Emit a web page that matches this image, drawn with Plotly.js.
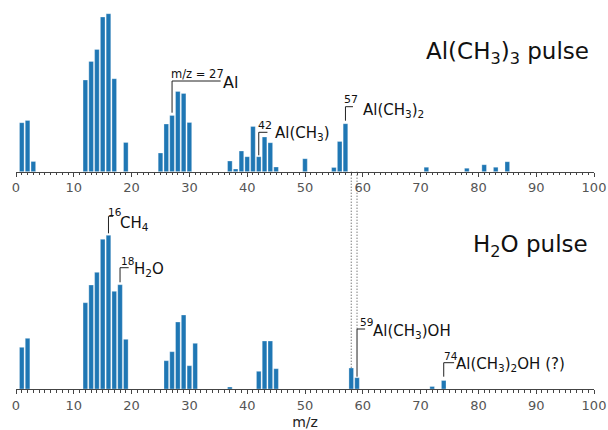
<!DOCTYPE html>
<html><head><meta charset="utf-8">
<script src="https://cdn.plot.ly/plotly-3.0.1.min.js"></script>
<style>body{margin:0;background:#fff}#chart{width:608px;height:430px}</style>
</head><body><div id="chart"></div>
<script>
// Al(CH3)3 pulse spectrum (relative intensity)
const tmaMz  = [1,2,3,12,13,14,15,16,17,19,25,26,27,28,29,30,37,38,39,40,41,42,43,44,45,50,55,56,57,71,78,81,83,85];
const tmaInt = [49,51.3,10.3,91.7,110.3,122.3,154.7,158,93,29.3,18.7,47.7,56.3,80.3,78.3,49.3,10.7,2.7,20.7,15,45.3,15,34.7,29,4.7,13,4.3,30.3,48,4.5,3.5,7,4.5,10];
// H2O pulse spectrum
const h2oMz  = [1,2,12,13,14,15,16,17,18,19,26,27,28,29,30,31,37,42,43,44,45,58,59,72,74];
const h2oInt = [41.7,50.7,86.3,104,116.7,149.7,153.7,97.7,104.3,49.7,28.3,37.3,67,74,23.3,45.7,2,17.7,48,48,20.3,21,11.3,2.5,8.5];
const xTicks = [0,10,20,30,40,50,60,70,80,90,100];

const FONT = 'DejaVu Sans, Arial, sans-serif';
const BLUE = '#1f77b4';
const topDom = [0.5586, 1], topRange = [0, 171.7];
const botDom = [0, 0.5], botRange = [0, 194.5];
function botPaper(v){ return botDom[0] + v/botRange[1]*(botDom[1]-botDom[0]); }
function topPaper(v){ return topDom[0] + v/topRange[1]*(topDom[1]-topDom[0]); }

const traces = [
  {type:'bar', x:tmaMz, y:tmaInt, xaxis:'x', yaxis:'y', width:0.8,
   marker:{color:BLUE, line:{width:0.6, color:'rgba(255,255,255,0.5)'}}, hoverinfo:'skip'},
  {type:'bar', x:h2oMz, y:h2oInt, xaxis:'x2', yaxis:'y2', width:0.8,
   marker:{color:BLUE, line:{width:0.6, color:'rgba(255,255,255,0.5)'}}, hoverinfo:'skip'}
];

function xax(anchor){
  return {range:[0,100], anchor:anchor, tickvals:xTicks, ticktext:xTicks.map(String),
    ticks:'outside', ticklen:4, tickwidth:1, tickcolor:'#444', showline:true, linecolor:'#444', linewidth:1,
    showgrid:false, zeroline:false, tickfont:{family:FONT, size:13, color:'#555'},
    minor:{dtick:1, tick0:0, ticks:'outside', ticklen:2.5, tickwidth:1, tickcolor:'#444', showgrid:false}};
}
function yax(dom, rng){
  return {domain:dom, range:rng, visible:false, fixedrange:true};
}

const shapes = [];
const ann = [];
function bracket(xr, yr, x, y0, y1, x2){
  shapes.push({type:'path', xref:xr, yref:yr, path:`M ${x},${y0} L ${x},${y1} L ${x2},${y1}`,
    line:{color:'#222', width:1}});
}
function label(xr, yr, x, y, text, size, anchorY){
  ann.push({xref:xr, yref:yr, x:x, y:y, text:text, showarrow:false, xanchor:'left', yanchor:anchorY||'middle',
    font:{family:FONT, size:size, color:'#111'}, borderpad:0});
}

// Top panel annotations
bracket('x','y', 27, 59, 90.7, 35.4);
label('x','y', 26.7, 97.7, 'm/z = 27', 11.5);
label('x','y', 35.7, 89.7, 'Al', 16);
bracket('x','y', 42, 16.4, 39.4, 43.5);
label('x','y', 41.7, 46, '42', 11);
label('x','y', 44.7, 38, 'Al(CH<sub>3</sub>)', 15);
bracket('x','y', 57, 51, 65, 58.3);
label('x','y', 56.6, 72, '57', 11);
label('x','y', 59.9, 61, 'Al(CH<sub>3</sub>)<sub>2</sub>', 15);

// Bottom panel annotations
bracket('x2','y2', 16, 155.7, 172.7, 16.8);
label('x2','y2', 15.8, 177.3, '16', 10.5);
label('x2','y2', 17.8, 165.5, 'CH<sub>4</sub>', 15);
bracket('x2','y2', 18, 106.7, 121.3, 19.5);
label('x2','y2', 18.0, 128.3, '18', 10.5);
label('x2','y2', 20.2, 119.5, 'H<sub>2</sub>O', 15);
bracket('x2','y2', 59, 12.3, 60, 60.4);
label('x2','y2', 59.3, 67.3, '59', 10.5);
label('x2','y2', 61.6, 58, 'Al(CH<sub>3</sub>)OH', 15);
bracket('x2','y2', 74, 12.3, 26.3, 75.8);
label('x2','y2', 73.9, 33, '74', 10.5);
label('x2','y2', 76.0, 24.5, 'Al(CH<sub>3</sub>)<sub>2</sub>OH (?)', 15);

// Dotted guide lines linking the panels
shapes.push({type:'line', xref:'x2', yref:'paper', x0:58, x1:58, y0:topPaper(0), y1:botPaper(21),
  line:{color:'#444', width:1, dash:'1px,2px'}});
shapes.push({type:'line', xref:'x2', yref:'paper', x0:59, x1:59, y0:topPaper(0), y1:botPaper(60),
  line:{color:'#444', width:1, dash:'1px,2px'}});

// Panel titles
ann.push({xref:'paper', yref:'y', x:0.995, y:119, text:'Al(CH<sub>3</sub>)<sub>3</sub> pulse', showarrow:false,
  xanchor:'right', yanchor:'middle', font:{family:FONT, size:23, color:'#111'}});
ann.push({xref:'paper', yref:'y2', x:0.993, y:143, text:'H<sub>2</sub>O pulse', showarrow:false,
  xanchor:'right', yanchor:'middle', font:{family:FONT, size:23, color:'#111'}});

const x2 = xax('y2');
x2.title = {text:'m/z', font:{family:FONT, size:14, color:'#222'}, standoff:5};

const layout = {
  width:608, height:430, margin:{l:16, r:14, t:0, b:41},
  paper_bgcolor:'#fff', plot_bgcolor:'#fff', showlegend:false,
  xaxis:xax('y'), yaxis:yax(topDom, topRange),
  xaxis2:x2, yaxis2:yax(botDom, botRange),
  shapes:shapes, annotations:ann, font:{family:FONT}
};
Plotly.newPlot('chart', traces, layout, {displayModeBar:false, staticPlot:true});
</script></body></html>
